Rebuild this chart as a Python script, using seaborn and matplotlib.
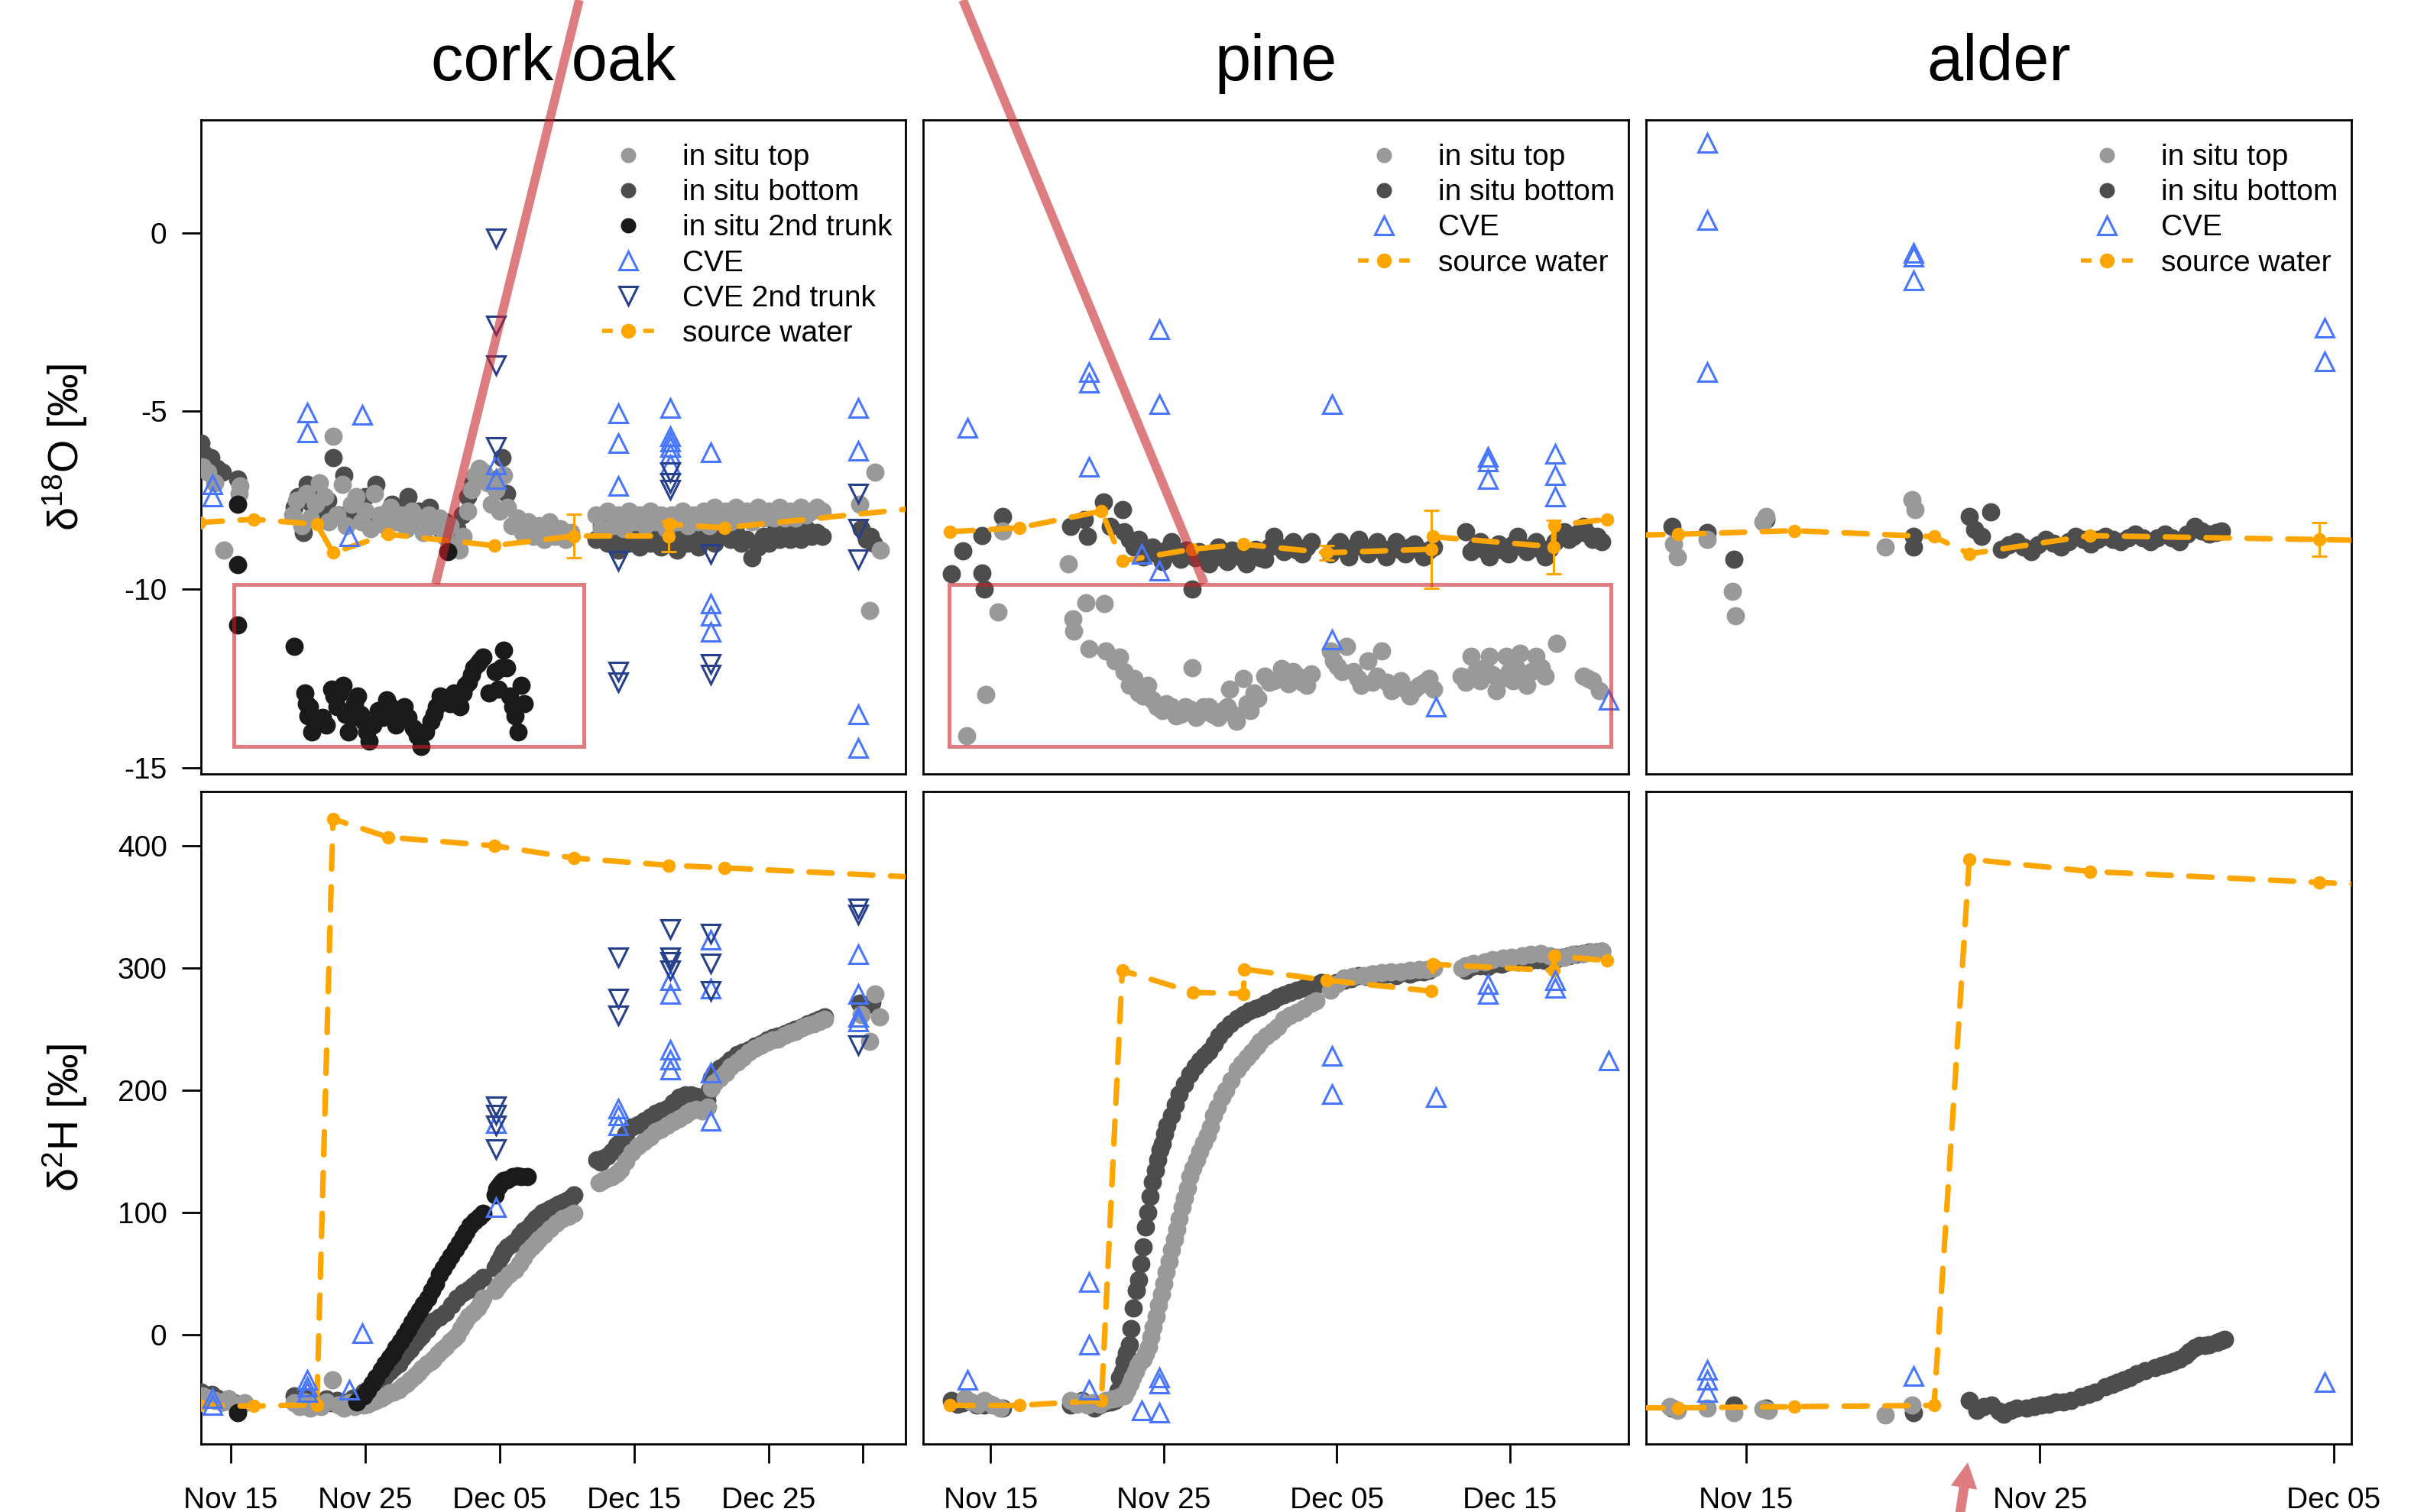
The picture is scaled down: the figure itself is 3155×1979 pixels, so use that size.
import numpy as np
import pandas as pd
import matplotlib
matplotlib.use("Agg")
import matplotlib.pyplot as plt
import matplotlib.dates as mdates
from matplotlib.lines import Line2D
from matplotlib.patches import Rectangle, FancyArrowPatch
import seaborn as sns

# ---------------------------------------------------------------- data
# x values are days after 31 Oct (Nov 15 = 15, Dec 05 = 35, Jan 01 = 62)
# ---- cork oak, d18O
co_top_o = [(12.9,-6.55),(13.3,-6.7),(13.8,-7.0),(14.5,-8.9),(15.6,-7.3),(15.7,-7.1),
 (19.6,-7.9),(19.9,-7.5),(20.3,-8.2),(20.6,-7.3),(20.9,-8.0),(21.3,-7.6),(21.6,-7.0),(22.0,-7.4),(22.3,-8.1),
 (22.6,-5.7),(22.9,-7.9),(23.3,-7.05),(23.6,-8.2),(24.0,-7.6),(24.3,-7.4),(24.7,-8.1),(25.0,-7.8),(25.4,-8.3),
 (25.7,-7.3),(26.1,-7.9),(26.5,-8.2),(26.9,-7.7),(27.3,-8.1),(27.7,-7.9),(28.1,-8.3),(28.5,-7.8),(28.9,-8.0),
 (29.3,-8.4),(29.7,-7.9),(30.1,-8.2),(30.5,-8.0),(30.9,-8.5),(31.3,-8.2),(31.7,-8.8),(32.0,-8.9),(32.3,-8.5),
 (32.6,-7.8),(32.9,-7.2),(33.2,-6.8),(33.5,-6.6),(33.8,-6.7),(34.1,-7.0),(34.4,-7.6),(34.7,-7.2),(35.0,-7.8),
 (35.3,-6.8),(35.6,-7.7),(35.9,-8.2),(36.3,-8.0),(36.7,-8.4),(37.1,-8.1),(37.5,-8.5),(37.9,-8.2),(38.3,-8.6),
 (38.7,-8.1),(39.1,-8.5),(39.5,-8.3),(39.9,-8.6),(40.3,-8.4),
 (42.2,-7.9),(42.6,-8.3),(43.0,-7.8),(43.4,-8.2),(43.8,-7.9),(44.2,-8.3),(44.6,-7.8),(45.0,-8.1),(45.4,-7.9),
 (45.8,-8.2),(46.2,-7.8),(46.6,-8.1),(47.0,-7.9),(47.4,-8.3),(47.8,-7.9),(48.2,-8.1),(48.6,-7.8),(49.0,-8.2),
 (49.4,-7.9),(49.8,-8.1),(50.2,-7.8),(50.6,-8.2),(51.0,-7.7),(51.4,-8.0),(51.8,-7.8),(52.2,-8.1),(52.6,-7.7),
 (53.0,-8.0),(53.4,-7.8),(53.8,-8.1),(54.2,-7.7),(54.6,-8.0),(55.0,-7.8),(55.4,-8.0),(55.8,-7.7),(56.2,-8.0),
 (56.6,-7.8),(57.0,-8.0),(57.4,-7.7),(57.8,-7.9),(58.2,-7.8),(58.6,-7.7),(59.0,-7.8),
 (61.8,-7.6),(62.55,-10.6),(62.9,-6.7),(63.3,-8.9)]
co_bot_o = [(12.8,-5.9),(13.0,-6.2),(13.5,-6.3),(14.0,-6.6),(14.4,-6.7),(15.5,-6.9),
 (19.7,-7.7),(20.0,-7.4),(20.4,-8.4),(20.7,-7.05),(21.0,-7.6),(21.4,-7.2),(21.8,-7.8),(22.2,-7.5),(22.6,-6.3),
 (23.0,-7.9),(23.4,-6.8),(23.8,-8.0),(24.2,-7.6),(24.6,-7.8),(25.0,-7.4),(25.4,-8.0),(25.8,-7.05),(26.2,-7.9),
 (26.6,-8.1),(27.0,-7.6),(27.4,-8.0),(27.8,-7.8),(28.2,-7.4),(28.6,-8.1),(29.0,-7.8),(29.4,-8.2),(29.8,-7.7),
 (30.2,-8.0),(30.6,-8.3),(31.0,-8.1),(31.4,-8.6),(31.8,-8.3),(32.2,-7.9),(32.6,-7.4),(33.0,-7.0),(33.4,-6.8),
 (34.8,-6.9),(35.2,-6.3),(35.5,-7.3),
 (42.2,-8.6),(42.6,-8.2),(43.0,-8.7),(43.4,-8.4),(43.8,-8.9),(44.2,-8.5),(44.6,-8.7),(45.0,-8.3),(45.4,-8.8),
 (45.8,-8.5),(46.2,-8.7),(46.6,-8.4),(47.0,-8.8),(47.4,-8.5),(47.8,-8.6),(48.2,-8.9),(48.6,-8.5),(49.0,-8.7),
 (49.4,-8.4),(49.8,-8.8),(50.2,-8.6),(50.6,-8.4),(51.0,-8.7),(51.4,-8.5),(51.8,-8.3),(52.2,-8.6),(52.6,-8.4),
 (53.0,-8.7),(53.4,-8.6),(53.8,-9.1),(54.2,-8.8),(54.6,-8.5),(55.0,-8.7),(55.4,-8.4),(55.8,-8.6),(56.2,-8.3),
 (56.6,-8.6),(57.0,-8.4),(57.4,-8.6),(57.8,-8.3),(58.2,-8.5),(58.6,-8.4),(59.0,-8.5),
 (61.9,-8.3),(62.3,-8.6),(62.6,-8.5),(62.8,-8.7)]
co_2nd_o = [(15.5,-7.6),(15.5,-9.3),(15.5,-11.0),(19.7,-11.6),(20.52,-12.9),(20.6,-13.2),(20.74,-13.55),
 (20.85,-13.3),(21.04,-14.0),(21.4,-13.7),(21.83,-13.6),(22.1,-13.8),(22.48,-12.8),(22.7,-13.0),(22.91,-13.3),
 (23.1,-12.9),(23.35,-12.7),(23.55,-13.5),(23.78,-14.0),(24.0,-13.6),(24.2,-13.2),(24.43,-13.0),(24.65,-13.5),
 (24.87,-13.7),(25.1,-14.0),(25.3,-14.25),(25.6,-13.8),(25.96,-13.4),(26.3,-13.6),(26.6,-13.1),(26.9,-13.3),
 (27.26,-13.8),(27.6,-13.5),(27.9,-13.3),(28.2,-13.6),(28.57,-13.9),(28.85,-14.1),(29.13,-14.4),(29.5,-14.0),
 (29.87,-13.7),(30.1,-13.5),(30.3,-13.3),(30.6,-13.0),(30.96,-13.1),(31.17,-8.94),(31.3,-13.2),(31.6,-12.9),
 (32.04,-13.3),(32.3,-12.9),(32.48,-12.7),(32.7,-12.6),(32.9,-12.4),(33.1,-12.2),(33.35,-12.1),(33.55,-12.0),
 (33.78,-11.9),(34.2,-12.9),(34.65,-12.3),(34.87,-12.8),(35.1,-12.2),(35.3,-11.7),(35.52,-12.2),(35.74,-13.0),
 (35.95,-13.3),(36.17,-13.55),(36.39,-14.0),(36.6,-12.7),(36.83,-13.2)]
co_cve_o = [(13.65,-7.05),(13.65,-7.4),(20.7,-5.03),(20.7,-5.6),(24.8,-5.1),(23.8,-8.5),(34.7,-6.5),(34.7,-6.9),
 (43.8,-5.06),(43.8,-5.9),(43.8,-7.1),(47.7,-4.9),(47.7,-5.7),(47.7,-5.85),(47.7,-6.0),(47.7,-6.2),(47.7,-6.5),
 (50.7,-6.15),(50.7,-10.4),(50.7,-10.75),(50.7,-11.2),(61.7,-4.9),(61.7,-6.1),(61.7,-13.5),(61.7,-14.45)]
co_cve2_o = [(34.7,-0.14),(34.7,-2.58),(34.7,-3.7),(34.7,-6.0),(43.8,-9.2),(43.8,-12.3),(43.8,-12.6),
 (47.7,-6.7),(47.7,-7.0),(47.7,-7.2),(50.7,-9.0),(50.7,-12.1),(50.7,-12.4),(61.7,-7.3),(61.7,-8.3),(61.7,-9.15)]
co_src_o = [(12.65,-8.12),(16.7,-8.03),(21.4,-8.17),(22.6,-8.97),(26.7,-8.45),(34.6,-8.77),(40.5,-8.5),
 (47.55,-8.5),(47.65,-8.17),(51.7,-8.27),(66.5,-7.7)]
co_src_o_err = [0, 0, 0, 0, 0, 0, 0.62, 0.43, 0, 0, 0]

# ---- cork oak, d2H
co_top_h = [(12.9,-50),(13.3,-52),(13.8,-54),(14.3,-55),(14.8,-53),(15.3,-57),(16.0,-56),
 (19.7,-56),(20.1,-59),(20.5,-55),(20.9,-60),(21.3,-57),(21.7,-59),(22.1,-55),(22.57,-37),(23.0,-58),(23.4,-60),
 (23.8,-56),(24.2,-59),(24.6,-57),(24.87,-58),(25.2,-57),(25.5,-55),(25.8,-54),(26.17,-52),(26.5,-50),(26.8,-48),
 (27.1,-47),(27.48,-45),(27.8,-42),(28.1,-40),(28.35,-37),(28.7,-34),(29.0,-31),(29.22,-28),(29.6,-24),(29.9,-22),
 (30.09,-20),(30.4,-16),(30.7,-13),(30.96,-10),(31.3,-6),(31.6,-3),(31.83,-1),(32.1,5),(32.4,10),(32.7,15),
 (33.0,18),(33.35,22),(33.6,26),(33.78,30),
 (34.65,36),(34.9,40),(35.1,43),(35.3,45),(35.7,49),(36.17,53),(36.5,58),(36.8,63),(37.04,68),(37.4,72),(37.7,75),
 (37.91,78),(38.3,82),(38.78,87),(39.2,91),(39.65,95),(40.1,97),(40.52,99),
 (42.4,124),(42.7,126),(43.0,128),(43.35,129),(43.7,132),(44.0,135),(44.4,142),(44.87,149),(45.3,154),(45.74,158),
 (46.2,162),(46.6,166),(47.0,168),(47.48,171),(47.9,174),(48.35,177),(48.8,180),(49.2,183),(49.6,184),(50.1,183),
 (50.5,186),(50.74,202),(51.0,206),(51.4,210),(51.83,214),(52.2,219),(52.7,223),(53.1,227),(53.56,231),(54.0,234),
 (54.43,237),(54.9,239),(55.3,241),(55.7,242),(56.2,245),(56.6,247),(57.04,248),(57.5,251),(57.9,253),(58.35,254),
 (58.8,256),(59.2,258),(61.9,262),(62.55,240),(62.9,279),(63.26,260)]
co_bot_h = [(12.8,-47),(13.2,-50),(13.6,-49),(14.0,-52),(14.4,-55),(14.8,-53),(15.2,-56),
 (19.7,-50),(20.1,-54),(20.5,-52),(20.9,-57),(21.3,-55),(21.7,-58),(22.1,-53),(22.5,-56),(22.9,-54),(23.3,-57),
 (23.7,-55),(24.1,-52),(24.5,-56),(24.87,-47),(25.2,-45),(25.5,-43),(25.8,-41),(26.17,-39),(26.5,-34),(26.8,-30),
 (27.1,-27),(27.48,-24),(27.8,-19),(28.1,-15),(28.35,-12),(28.7,-7),(29.0,-3),(29.22,-1),(29.6,4),(29.9,9),
 (30.09,11),(30.5,14),(30.96,18),(31.4,24),(31.83,30),(32.3,34),(32.7,37),(33.0,40),(33.35,43),(33.78,47),
 (34.65,55),(34.9,60),(35.1,64),(35.3,68),(35.6,72),(35.9,74),(36.17,76),(36.5,81),(36.8,85),(37.04,87),
 (37.4,91),(37.7,95),(37.91,97),(38.2,100),(38.5,101),(38.78,103),(39.1,105),(39.4,107),(39.65,108),(40.0,110),
 (40.3,112),(40.52,114),
 (42.25,143),(42.5,141),(42.7,144),(43.0,146),(43.35,150),(43.7,155),(44.0,158),(44.4,164),(44.87,170),(45.3,172),
 (45.74,175),(46.2,178),(46.6,181),(47.0,183),(47.48,185),(47.9,190),(48.35,194),(48.8,196),(49.2,196),(49.6,195),
 (50.1,194),(50.4,192),(50.6,200),(50.74,210),(51.0,214),(51.4,218),(51.83,221),(52.2,225),(52.7,229),(53.1,231),
 (53.56,233),(54.0,236),(54.43,238),(54.9,241),(55.3,243),(55.7,244),(56.2,246),(56.6,248),(57.04,250),(57.5,252),
 (57.9,254),(58.35,256),(58.8,258),(59.2,260),(61.8,271),(62.1,268),(62.4,270),(62.7,272)]
co_2nd_h = [(15.5,-64),(24.4,-55),(24.87,-50),(25.2,-46),(25.5,-40),(25.8,-35),(26.17,-29),(26.5,-24),(26.8,-19),
 (27.04,-16),(27.3,-11),(27.6,-6),(27.9,-1),(28.2,4),(28.5,10),(28.78,15),(29.05,20),(29.35,25),(29.65,30),
 (29.95,36),(30.25,42),(30.52,49),(30.8,54),(31.1,59),(31.39,64),(31.7,70),(32.0,75),(32.26,80),(32.5,84),
 (32.8,89),(33.13,93),(33.45,96),(33.78,99),(34.65,114),(34.8,119),(34.95,122),(35.1,124),(35.3,126),(35.6,127),
 (35.96,129),(36.3,130),(36.6,129),(37.04,129)]
co_cve_h = [(13.65,-52),(13.65,-58),(20.7,-37),(20.7,-43),(20.7,-47),(23.8,-45),(24.8,1),(34.7,104),(34.7,173),
 (43.8,171),(43.8,179),(43.8,185),(47.7,217),(47.7,225),(47.7,233),(47.7,279),(47.7,290),
 (50.7,175),(50.7,214),(50.7,283),(50.7,323),(61.7,256),(61.7,260),(61.7,279),(61.7,311)]
co_cve2_h = [(34.7,152),(34.7,171),(34.7,180),(34.7,187),(43.8,261),(43.8,275),(43.8,309),
 (47.7,298),(47.7,305),(47.7,309),(47.7,332),(50.7,281),(50.7,304),(50.7,328),(61.7,237),(61.7,344),(61.7,349)]
co_src_h = [(12.65,-58),(16.7,-58.6),(21.4,-57.4),(22.6,422),(26.7,407),(34.6,400),(40.5,390),(47.6,384),
 (51.7,382),(66.5,374)]

# ---- pine, d18O
pi_top_o = [(13.62,-14.1),(14.7,-12.95),(15.43,-10.64),(15.7,-8.35),(19.49,-9.29),(19.76,-10.82),(19.81,-11.17),
 (20.51,-10.38),(21.57,-10.4),(20.7,-11.66),(21.65,-11.73),(22.19,-12.0),(22.45,-11.9),(22.73,-12.3),(23.0,-12.7),
 (23.3,-12.5),(23.54,-12.9),(23.8,-13.0),(24.08,-12.7),(24.35,-13.1),(24.6,-13.3),(24.9,-13.4),(25.15,-13.2),
 (25.43,-13.3),(25.7,-13.55),(25.97,-13.5),(26.25,-13.3),(26.5,-13.35),(26.65,-12.2),(26.85,-13.6),(27.05,-13.5),
 (27.3,-13.3),(27.6,-13.3),(27.85,-13.5),(28.14,-13.6),(28.4,-13.4),(28.68,-13.3),(28.8,-12.8),(29.0,-13.5),
 (29.2,-13.7),(29.6,-12.5),(29.8,-13.2),(30.0,-13.4),(30.2,-12.9),(30.43,-13.06),(30.84,-12.43),(31.1,-12.6),
 (31.38,-12.57),(31.78,-12.22),(32.0,-12.5),(32.19,-12.64),(32.45,-12.3),(32.73,-12.43),(33.0,-12.6),
 (33.27,-12.7),(33.54,-12.36),(34.62,-11.73),(34.8,-12.0),(35.03,-12.15),(35.3,-12.3),(35.57,-11.6),
 (35.97,-12.3),(36.2,-12.5),(36.38,-12.7),(36.78,-12.0),(37.05,-12.6),(37.32,-12.43),(37.6,-11.73),(37.9,-12.6),
 (38.14,-12.85),(38.4,-12.7),(38.68,-12.57),(38.95,-12.8),(39.22,-13.0),(39.5,-12.8),(39.76,-12.7),(40.05,-12.6),
 (40.3,-12.5),(40.6,-12.8),
 (42.19,-12.43),(42.45,-12.6),(42.73,-11.87),(43.0,-12.3),(43.27,-12.57),(43.55,-12.2),(43.8,-11.87),(44.0,-12.4),
 (44.2,-12.85),(44.5,-12.5),(44.76,-11.87),(44.95,-12.3),(45.16,-12.57),(45.35,-12.2),(45.57,-11.8),(45.75,-12.4),
 (45.97,-12.7),(46.25,-12.3),(46.51,-11.87),(46.8,-12.2),(47.05,-12.43),(47.68,-11.52),(49.22,-12.43),
 (49.5,-12.5),(49.76,-12.57),(50.16,-12.85)]
pi_bot_o = [(12.73,-9.57),(13.4,-8.91),(14.49,-8.49),(14.49,-9.53),(14.62,-9.99),(15.7,-7.96),(19.62,-8.24),
 (20.43,-8.03),(20.57,-8.52),(21.51,-7.54),(21.92,-8.24),(22.6,-7.75),(22.73,-8.38),(23.0,-8.6),(23.27,-8.8),
 (23.55,-8.6),(23.81,-9.08),(24.1,-8.9),(24.35,-8.8),(24.6,-9.0),(24.9,-9.22),(25.15,-8.9),(25.43,-8.66),
 (25.7,-9.0),(25.97,-9.15),(26.3,-8.9),(26.65,-9.99),(26.8,-9.1),(27.05,-8.94),(27.3,-9.1),(27.6,-9.29),
 (27.85,-9.0),(28.14,-8.8),(28.4,-9.1),(28.68,-9.22),(28.95,-8.9),(29.2,-8.94),(29.5,-9.1),(29.76,-9.29),
 (30.0,-9.0),(30.3,-8.87),(30.55,-9.1),(30.84,-9.15),(31.1,-8.8),(31.38,-8.52),(31.65,-8.8),(31.92,-8.94),
 (32.2,-8.8),(32.46,-8.66),(32.7,-8.9),(33.0,-9.01),(33.27,-8.8),(33.54,-8.66),(34.62,-9.01),(34.9,-8.8),
 (35.16,-8.66),(35.45,-8.9),(35.7,-9.08),(36.0,-8.8),(36.24,-8.59),(36.5,-8.8),(36.78,-9.01),(37.05,-8.8),
 (37.32,-8.66),(37.6,-8.9),(37.86,-9.08),(38.1,-8.85),(38.4,-8.66),(38.7,-8.9),(38.95,-9.01),(39.2,-8.8),
 (39.49,-8.73),(39.75,-8.9),(40.03,-9.08),(40.3,-8.9),(40.57,-8.8),
 (42.46,-8.38),(42.73,-8.94),(43.0,-8.8),(43.27,-8.66),(43.55,-8.9),(43.81,-9.08),(44.1,-8.85),(44.35,-8.73),
 (44.6,-8.9),(44.89,-9.01),(45.15,-8.75),(45.43,-8.52),(45.7,-8.8),(45.97,-8.94),(46.25,-8.8),(46.51,-8.66),
 (46.8,-8.9),(47.05,-9.08),(47.3,-8.85),(47.59,-8.66),(47.85,-8.5),(48.14,-8.38),(48.4,-8.6),(48.68,-8.52),
 (48.95,-8.4),(49.22,-8.24),(49.5,-8.45),(49.76,-8.59),(50.05,-8.5),(50.3,-8.66)]
pi_cve_o = [(13.65,-5.47),(20.7,-3.9),(20.7,-4.2),(20.7,-6.56),(24.73,-2.7),(24.73,-4.8),(24.73,-9.47),
 (23.73,-9.0),(34.7,-4.8),(34.7,-11.4),(40.7,-13.3),(43.7,-6.28),(43.7,-6.4),(43.7,-6.9),
 (47.6,-6.2),(47.6,-6.8),(47.6,-7.4),(50.7,-13.1)]
pi_src_o = [(12.65,-8.38),(16.65,-8.27),(21.4,-7.8),(22.6,-9.2),(26.65,-8.87),(29.6,-8.73),(34.4,-8.97),
 (40.45,-8.87),(40.55,-8.52),(47.5,-8.8),(47.55,-8.2),(50.6,-8.03)]
pi_src_o_err = [0, 0, 0, 0, 0, 0, 0.2, 1.1, 0, 0.75, 0, 0]

# ---- pine, d2H
pi_top_h = [(13.54,-52),(13.9,-55),(14.3,-57),(14.62,-54),(15.1,-58),(15.57,-60),(19.62,-54),(19.95,-57),
 (20.25,-55),(20.57,-58),(20.9,-56),(21.3,-57),(21.65,-54),(22.0,-53),(22.25,-52),(22.46,-51),(22.73,-50),
 (22.9,-45),(23.05,-40),(23.2,-35),(23.35,-30),(23.5,-25),(23.65,-22),(23.81,-20),(23.95,-16),(24.1,-10),
 (24.25,-2),(24.4,6),(24.55,15),(24.7,24),(24.85,33),(25.0,42),(25.15,51),(25.3,60),(25.45,69),(25.6,78),
 (25.75,86),(25.9,95),(26.05,104),(26.2,112),(26.35,120),(26.51,129),(26.7,136),(26.9,143),(27.1,150),(27.3,157),
 (27.5,163),(27.7,170),(27.86,179),(28.1,186),(28.35,194),(28.6,200),(28.9,208),(29.22,217),(29.5,222),
 (29.8,227),(30.1,231),(30.4,236),(30.57,240),(30.9,244),(31.25,248),(31.6,252),(31.92,258),(32.3,261),
 (32.7,264),(33.1,267),(33.54,271),(33.8,273),
 (34.62,282),(35.0,287),(35.43,292),(35.9,293),(36.51,294),(37.0,295),(37.6,296),(38.1,297),(38.68,297),
 (39.2,298),(39.76,299),(40.2,299),(40.57,300),(42.2,300),(42.46,302),(42.9,304),(43.54,305),(44.0,307),
 (44.62,308),(45.1,309),(45.7,310),(46.2,311),(46.78,312),(47.3,310),(47.7,309),(48.14,309),(48.6,311),
 (49.22,312),(49.7,313),(50.3,314)]
pi_bot_h = [(12.73,-54),(13.1,-57),(13.4,-56),(14.2,-58),(14.62,-58),(15.0,-57),(15.7,-60),(19.62,-58),
 (20.0,-56),(20.3,-54),(20.6,-57),(20.97,-60),(21.3,-58),(21.65,-56),(21.95,-55),(22.19,-54),(22.35,-46),
 (22.46,-35),(22.6,-30),(22.73,-22),(22.86,-15),(23.0,-8),(23.12,5),(23.25,22),(23.4,36),(23.54,45),(23.68,58),
 (23.81,72),(23.95,88),(24.08,100),(24.22,113),(24.35,125),(24.5,134),(24.65,143),(24.8,151),(24.9,156),
 (25.05,164),(25.2,171),(25.43,179),(25.65,188),(25.9,197),(26.2,205),(26.51,213),(26.8,219),(27.1,224),
 (27.35,228),(27.59,232),(27.9,238),(28.2,244),(28.5,249),(28.85,254),(29.22,259),(29.6,262),(29.95,265),
 (30.3,267),(30.57,268),(30.9,271),(31.25,273),(31.6,276),(31.92,278),(32.3,280),(32.7,282),(33.1,284),
 (33.45,285),(33.81,286),(34.1,288),
 (34.62,286),(35.0,288),(35.43,290),(35.8,291),(36.24,294),(36.7,293),(37.1,295),(37.5,294),(37.9,295),
 (38.4,294),(38.8,296),(39.2,295),(39.6,297),(40.0,297),(40.3,298),(42.46,298),(42.8,301),(43.27,302),
 (43.7,301),(44.1,304),(44.5,303),(44.9,305),(45.43,305),(45.8,306),(46.2,306),(46.6,307),(47.0,306),
 (47.59,307),(48.0,309),(48.4,310),(48.8,311),(49.2,312),(49.6,313),(50.0,313),(50.3,314)]
pi_cve_h = [(13.65,-37),(20.7,43),(20.7,-8),(20.7,-45),(23.73,-62),(24.73,-35),(24.73,-40),(24.73,-64),
 (34.7,228),(34.7,197),(40.7,194),(43.7,287),(43.7,279),(47.6,290),(47.6,284),(50.7,224)]
pi_src_h = [(12.65,-58),(16.65,-58),(21.4,-54),(22.6,298),(26.7,280),(29.6,279),(29.65,299),(34.4,290),
 (40.45,281),(40.55,303),(47.5,298),(47.55,310),(50.6,306)]

# ---- alder, d18O
al_top_o = [(12.54,-8.73),(12.66,-9.08),(13.67,-8.59),(14.55,-10.06),(14.65,-10.73),(15.57,-8.1),(15.69,-7.96),
 (19.73,-8.8),(20.66,-7.47),(20.75,-7.75)]
al_bot_o = [(12.49,-8.24),(13.67,-8.41),(14.6,-9.15),(15.69,-8.03),(20.71,-8.52),(20.71,-8.8),(22.6,-7.96),
 (22.77,-8.31),(23.02,-8.52),(23.32,-7.82),(23.69,-8.87),(23.95,-8.75),(24.2,-8.66),(24.45,-8.8),(24.7,-8.94),
 (24.95,-8.75),(25.21,-8.59),(25.45,-8.7),(25.72,-8.8),(25.97,-8.65),(26.22,-8.52),(26.48,-8.6),(26.73,-8.73),
 (26.98,-8.6),(27.23,-8.52),(27.48,-8.6),(27.74,-8.66),(28.0,-8.55),(28.24,-8.45),(28.5,-8.55),(28.75,-8.66),
 (29.0,-8.55),(29.25,-8.45),(29.5,-8.55),(29.76,-8.66),(30.0,-8.45),(30.27,-8.24),(30.5,-8.35),(30.77,-8.45),
 (31.0,-8.4),(31.19,-8.35)]
al_cve_o = [(13.67,2.54),(13.67,0.38),(13.67,-3.9),(20.7,-0.56),(20.7,-0.67),(20.7,-1.33),(34.68,-2.65),
 (34.68,-3.6)]
al_src_o = [(10.0,-8.5),(12.7,-8.45),(16.65,-8.35),(21.4,-8.52),(22.6,-9.0),(26.7,-8.49),(34.5,-8.6),(37.0,-8.64)]
al_src_o_err = [0, 0, 0, 0, 0, 0, 0.47, 0]

# ---- alder, d2H
al_top_h = [(12.41,-59),(12.66,-62),(13.67,-60),(14.6,-64),(15.57,-61),(15.77,-62),(19.73,-66),(20.66,-58)]
al_bot_h = [(12.49,-60),(14.6,-58),(15.69,-60),(20.71,-64),(22.6,-54),(22.85,-62),(23.1,-59),(23.36,-58),
 (23.6,-63),(23.78,-65),(24.0,-62),(24.2,-60),(24.54,-60),(24.8,-59),(25.04,-58),(25.3,-57),(25.55,-55.5),
 (25.8,-55),(26.05,-54),(26.39,-51),(26.65,-49),(26.9,-47),(27.23,-43),(27.45,-41),(27.65,-39),(27.85,-37),
 (28.07,-35),(28.3,-32),(28.58,-29.5),(28.92,-27),(29.15,-25),(29.34,-24),(29.55,-22),(29.76,-20),(29.95,-17),
 (30.1,-14),(30.27,-11),(30.43,-9),(30.6,-9),(30.77,-8.5),(31.02,-6.5),(31.15,-5),(31.28,-4)]
al_cve_h = [(13.67,-29),(13.67,-37),(13.67,-47),(20.7,-34),(34.68,-39)]
al_src_h = [(10.0,-60),(12.7,-60),(16.65,-59),(21.4,-58),(22.6,389),(26.7,379),(34.5,370),(37.0,367)]

titles = ["cork oak", "pine", "alder"]
xlims = [(12.78, 65.2), (11.1, 51.84), (11.6, 35.6)]
tick_days = [[15, 25, 35, 45, 55, 62], [15, 25, 35, 45], [15, 25, 35]]
yticks_o = [-15, -10, -5, 0]
yticks_h = [0, 100, 200, 300, 400]
ylim_o = (-15.18, 3.18)
ylim_h = (-89.6, 444.4)
legend_labels_co = ["in situ top", "in situ bottom", "in situ 2nd trunk", "CVE", "CVE 2nd trunk", "source water"]
legend_labels = ["in situ top", "in situ bottom", "CVE", "source water"]

# ---------------------------------------------------------------- style
sns.set_theme(style="white")
plt.rcParams["font.family"] = ["Liberation Sans", "DejaVu Sans"]
plt.rcParams["mathtext.fontset"] = "custom"
plt.rcParams["mathtext.rm"] = "Liberation Sans"
plt.rcParams["mathtext.it"] = "Liberation Sans:italic"
plt.rcParams["axes.unicode_minus"] = False
for k in ["text.color", "axes.labelcolor", "xtick.color", "ytick.color", "axes.edgecolor"]:
    plt.rcParams[k] = "black"

C_TOP = "#999999"
C_BOT = "#4D4D4D"
C_2ND = "#1A1A1A"
C_CVE = "#4876FF"
C_CVE2 = "#27408B"
C_SRC = "#FFA500"
C_RED = (0.78, 0.12, 0.14)
A_RED = 0.58

BASE = pd.Timestamp("2018-10-31")
W, H = 3155, 1979
fig = plt.figure(figsize=(W / 200, H / 200), dpi=200)
fig.patch.set_facecolor("white")

cols_px = [(263, 1185), (1208, 2131), (2154, 3077)]
rows_px = [(157, 1013), (1036, 1890)]


def dt(days):
    return BASE + pd.to_timedelta(np.asarray(days, dtype=float), unit="D")


def frame(pairs):
    d = pd.DataFrame(pairs, columns=["day", "val"])
    d["date"] = dt(d["day"])
    return d


def insitu(ax, pairs, color, z):
    d = frame(pairs)
    sns.scatterplot(data=d, x="date", y="val", ax=ax, color=color, s=74,
                    linewidth=0, zorder=z, legend=False)


def cve(ax, pairs, color, marker):
    d = frame(pairs)
    ax.plot(d["date"], d["val"], ls="none", marker=marker, ms=8.3, mfc="none",
            mec=color, mew=1.1, zorder=8)


def source(ax, pairs, errs=None):
    d = frame(pairs)
    ax.plot(d["date"], d["val"], color=C_SRC, lw=2.6, ls=(0, (4.2, 3.2)),
            dash_capstyle="round", solid_capstyle="round", marker="o", ms=6.3,
            mew=0, zorder=7)
    if errs is not None:
        e = np.asarray(errs, dtype=float)
        m = e > 0
        ax.errorbar(d["date"][m], d["val"][m], yerr=e[m], fmt="none",
                    ecolor=C_SRC, elinewidth=1.1, capsize=3.5, capthick=1.1,
                    zorder=7)


def style(ax, ci, ri):
    for s in ax.spines.values():
        s.set_visible(True)
        s.set_color("black")
        s.set_linewidth(1.0)
    ax.set_facecolor("white")
    ax.grid(False)
    ax.set_xlim(dt([xlims[ci][0]])[0], dt([xlims[ci][1]])[0])
    ax.set_xlabel("")
    ax.set_ylabel("")
    ax.tick_params(axis="both", direction="out", length=9, width=1.0,
                   color="black", labelsize=14, labelcolor="black")
    ax.tick_params(axis="x", pad=11)
    ax.tick_params(axis="y", pad=7)
    if ri == 0:
        ax.set_ylim(*ylim_o)
        ax.set_xticks([])
        if ci == 0:
            ax.set_yticks(yticks_o)
            ax.set_yticklabels([str(t) for t in yticks_o])
            ax.tick_params(axis="y", left=True)
        else:
            ax.set_yticks([])
    else:
        ax.set_ylim(*ylim_h)
        ticks = dt(tick_days[ci])
        ax.set_xticks(ticks)
        labs = [t.strftime("%b %d") for t in ticks]
        if ci == 0:
            labs[-1] = ""
        ax.set_xticklabels(labs)
        ax.tick_params(axis="x", bottom=True)
        if ci == 0:
            ax.set_yticks(yticks_h)
            ax.set_yticklabels([str(t) for t in yticks_h])
            ax.tick_params(axis="y", left=True)
        else:
            ax.set_yticks([])


axes = {}
for ri, (y0, y1) in enumerate(rows_px):
    for ci, (x0, x1) in enumerate(cols_px):
        axes[(ri, ci)] = fig.add_axes([x0 / W, 1 - y1 / H, (x1 - x0) / W, (y1 - y0) / H])

# cork oak
ax = axes[(0, 0)]
insitu(ax, co_bot_o, C_BOT, 3); insitu(ax, co_top_o, C_TOP, 4); insitu(ax, co_2nd_o, C_2ND, 5)
source(ax, co_src_o, co_src_o_err)
cve(ax, co_cve_o, C_CVE, "^"); cve(ax, co_cve2_o, C_CVE2, "v")
ax = axes[(1, 0)]
insitu(ax, co_bot_h, C_BOT, 3); insitu(ax, co_top_h, C_TOP, 4); insitu(ax, co_2nd_h, C_2ND, 5)
source(ax, co_src_h)
cve(ax, co_cve_h, C_CVE, "^"); cve(ax, co_cve2_h, C_CVE2, "v")
# pine
ax = axes[(0, 1)]
insitu(ax, pi_bot_o, C_BOT, 3); insitu(ax, pi_top_o, C_TOP, 4)
source(ax, pi_src_o, pi_src_o_err)
cve(ax, pi_cve_o, C_CVE, "^")
ax = axes[(1, 1)]
insitu(ax, pi_bot_h, C_BOT, 3); insitu(ax, pi_top_h, C_TOP, 4)
source(ax, pi_src_h)
cve(ax, pi_cve_h, C_CVE, "^")
# alder
ax = axes[(0, 2)]
insitu(ax, al_bot_o, C_BOT, 3); insitu(ax, al_top_o, C_TOP, 4)
source(ax, al_src_o, al_src_o_err)
cve(ax, al_cve_o, C_CVE, "^")
ax = axes[(1, 2)]
insitu(ax, al_bot_h, C_BOT, 3); insitu(ax, al_top_h, C_TOP, 4)
source(ax, al_src_h)
cve(ax, al_cve_h, C_CVE, "^")

for (ri, ci), ax in axes.items():
    style(ax, ci, ri)

# legends
def handles(n_full):
    h = [Line2D([], [], ls="none", marker="o", ms=7.2, mew=0, color=C_TOP),
         Line2D([], [], ls="none", marker="o", ms=7.2, mew=0, color=C_BOT)]
    if n_full:
        h.append(Line2D([], [], ls="none", marker="o", ms=7.2, mew=0, color=C_2ND))
    h.append(Line2D([], [], ls="none", marker="^", ms=8.3, mfc="none", mec=C_CVE, mew=1.1))
    if n_full:
        h.append(Line2D([], [], ls="none", marker="v", ms=8.3, mfc="none", mec=C_CVE2, mew=1.1))
    h.append(Line2D([], [], color=C_SRC, lw=2.0, ls=(0, (2.5, 7.2)), marker="o", ms=7.0, mew=0))
    return h

for ci in range(3):
    ax = axes[(0, ci)]
    labs = legend_labels_co if ci == 0 else legend_labels
    ax.legend(handles(ci == 0), labs, loc="upper right", bbox_to_anchor=(1.0, 0.984),
              frameon=False, fontsize=14, handlelength=1.75, handletextpad=0.95,
              labelspacing=0.26, borderpad=0.2, borderaxespad=0.25)

# titles
for ci, t in enumerate(titles):
    x0, x1 = cols_px[ci]
    fig.text((x0 + x1) / 2 / W, 1 - 105 / H, t, ha="center", va="baseline", fontsize=30.5)

# y labels
fig.text(85 / W, 1 - 585 / H, r"$\mathrm{\delta^{18}}$O [‰]", rotation=90, ha="center",
         va="center", fontsize=20)
fig.text(85 / W, 1 - 1463 / H, r"$\mathrm{\delta^{2}}$H [‰]", rotation=90, ha="center",
         va="center", fontsize=20)

# red annotations
def dnum(day):
    return mdates.date2num(dt([day])[0].to_pydatetime())

for (ci, d0, d1) in [(0, 15.22, 41.26), (1, 12.6, 50.84)]:
    ax = axes[(0, ci)]
    x0 = dnum(d0); x1 = dnum(d1)
    ax.add_patch(Rectangle((x0, -14.41), x1 - x0, 4.54, fill=False, edgecolor=C_RED,
                           alpha=A_RED, lw=1.8, zorder=15, clip_on=False))

fig.add_artist(Line2D([758 / W, 570 / W], [1.0, 1 - 764 / H], color=C_RED, alpha=A_RED,
                      lw=4.2, solid_capstyle="butt", transform=fig.transFigure, zorder=20))
fig.add_artist(Line2D([1260 / W, 1576 / W], [1.0, 1 - 764 / H], color=C_RED, alpha=A_RED,
                      lw=4.2, solid_capstyle="butt", transform=fig.transFigure, zorder=20))
fig.add_artist(FancyArrowPatch((2562 / W, 1 - 2000 / H), (2575 / W, 1 - 1914 / H),
                               transform=fig.transFigure,
                               arrowstyle="simple,head_width=12.5,head_length=12,tail_width=4.6",
                               mutation_scale=1, color=C_RED, alpha=A_RED, lw=0,
                               shrinkA=0, shrinkB=0, zorder=20))

fig.savefig("out.png", dpi=200, facecolor="white")
